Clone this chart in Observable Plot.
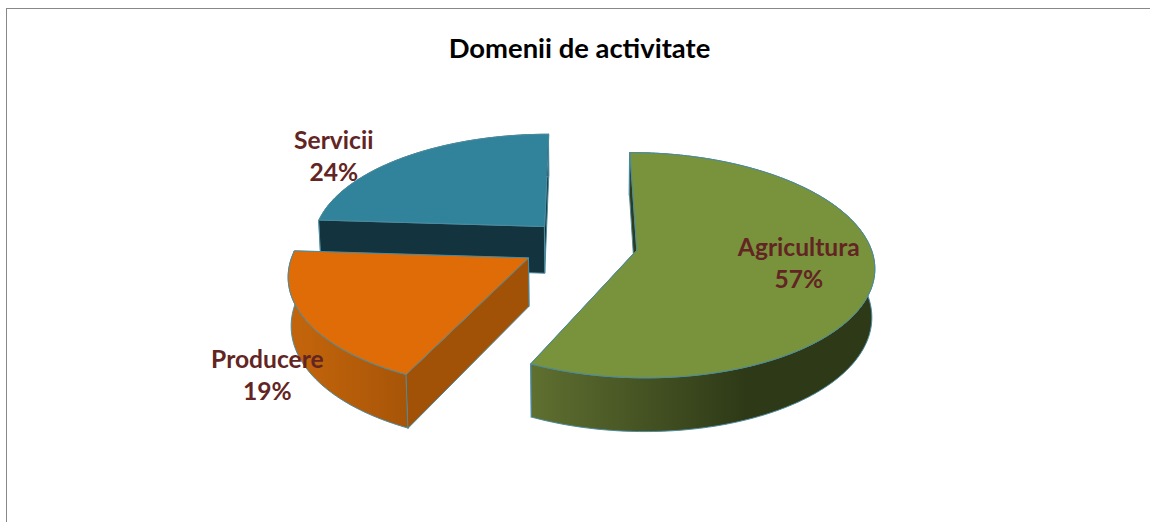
<!DOCTYPE html>
<html>
<head>
<meta charset="utf-8">
<script src="https://cdn.jsdelivr.net/npm/d3@7"></script>
<script src="https://cdn.jsdelivr.net/npm/@observablehq/plot@0.6"></script>
<style>
html,body{margin:0;padding:0;background:#fff;overflow:hidden}
#frame{position:absolute;left:6px;top:8px;width:1144px;height:514px;border-left:1.5px solid #888;border-top:1.5px solid #888;box-sizing:border-box;pointer-events:none}
svg{display:block}
</style>
</head>
<body>
<div id="chart"></div>
<div id="frame"></div>
<script>
const chartTitle = "Domenii de activitate";
const categories = ["Agricultura", "Producere", "Servicii"];
const shares = [57, 19, 24];

const topColors = ["#78933b", "#e06c07", "#31839c"];
const cutColors = ["#2f3a18", "#a25207", "#13343f"];
const wallStops = [
  {id: "wall0", from: "#5f7030", to: "#2e3917", x1: 530, x2: 745},
  {id: "wall1", from: "#c2640b", to: "#a85508", x1: 300, x2: 405},
  {id: "wall2", from: "#13343f", to: "#13343f", x1: 300, x2: 550}
];
const outline = "#4c8b9e";
const labelColor = "#632523";

// Perspective of the tilted disc
const view = {x0: 579, y0: 243.5, a: 233, b: 109, k: 0.134, depth: 48, recede: 0.01, start: 0};
const explodeBy = [0.25, 0.25, 0.225];
// Label anchors in disc units relative to each slice's tip
const labelAnchors = [[0.677, 0.105], [-0.94, 0.9], [-1.03, -0.75]];

const project = (u, v, low) => {
  const w = 1 - view.k * v + (low ? view.recede : 0);
  return {
    x: view.x0 + view.a * u / w,
    y: view.y0 + (view.b * v + (low ? view.depth : 0)) / w
  };
};

const total = d3.sum(shares);
let acc = view.start;
const slices = categories.map((name, i) => {
  const sweep = shares[i] / total * 360;
  const a0 = acc, a1 = acc + sweep;
  acc = a1;
  const mid = (a0 + a1) / 2 * Math.PI / 180;
  const cu = explodeBy[i] * Math.sin(mid), cv = -explodeBy[i] * Math.cos(mid);
  const n = Math.max(8, Math.round(sweep));
  const arc = d3.range(n + 1).map(j => {
    const t = (a0 + sweep * j / n) * Math.PI / 180;
    return [cu + Math.sin(t), cv - Math.cos(t)];
  });
  return {name, i, cu, cv, arc};
});

const poly = (points, fill, strokeWidth = 1) =>
  Plot.line(points, {x: "x", y: "y", fill, stroke: outline, strokeWidth, curve: "linear-closed", strokeLinejoin: "round"});

const sliceMarks = s => {
  const top = s.arc.map(([u, v]) => project(u, v, false));
  const low = s.arc.map(([u, v]) => project(u, v, true));
  const tipT = project(s.cu, s.cv, false), tipL = project(s.cu, s.cv, true);
  const first = s.arc[0], last = s.arc[s.arc.length - 1];
  const face = ([u, v]) => [project(u, v, false), tipT, tipL, project(u, v, true)];
  return [
    poly(face(last), cutColors[s.i]),
    poly([...top, ...low.slice().reverse()], `url(#wall${s.i})`),
    poly(face(first), cutColors[s.i]),
    poly([tipT, ...top], topColors[s.i])
  ];
};

const defs = () => {
  const d = d3.create("svg:defs");
  wallStops.forEach(g => {
    const lg = d.append("linearGradient").attr("id", g.id).attr("gradientUnits", "userSpaceOnUse")
      .attr("x1", g.x1).attr("x2", g.x2).attr("y1", 0).attr("y2", 0);
    lg.append("stop").attr("offset", "0").attr("stop-color", g.from);
    lg.append("stop").attr("offset", "1").attr("stop-color", g.to);
  });
  return d.node();
};

const labels = slices.map((s, i) => {
  const p = project(s.cu + labelAnchors[i][0], s.cv + labelAnchors[i][1], false);
  return {...p, text: `${s.name}\n${shares[i]}%`};
});

const chart = Plot.plot({
  width: 1150,
  height: 522,
  margin: 0,
  x: {domain: [0, 1150], range: [0, 1150], axis: null},
  y: {domain: [0, 522], range: [0, 522], axis: null},
  style: {background: "#fff", fontFamily: "Lato"},
  marks: [
    defs,
    ...[slices[2], slices[1], slices[0]].flatMap(sliceMarks),
    Plot.text(labels, {x: "x", y: "y", text: "text", fill: labelColor, fontFamily: "Lato", fontWeight: 700, fontSize: 24.6, lineHeight: 1.3, textAnchor: "middle"}),
    Plot.text([chartTitle], {frameAnchor: "top", dx: 4, dy: 38, fill: "#000", fontFamily: "Lato", fontWeight: 700, fontSize: 27.4, textAnchor: "middle"})
  ]
});
document.getElementById("chart").append(chart);
</script>
</body>
</html>
